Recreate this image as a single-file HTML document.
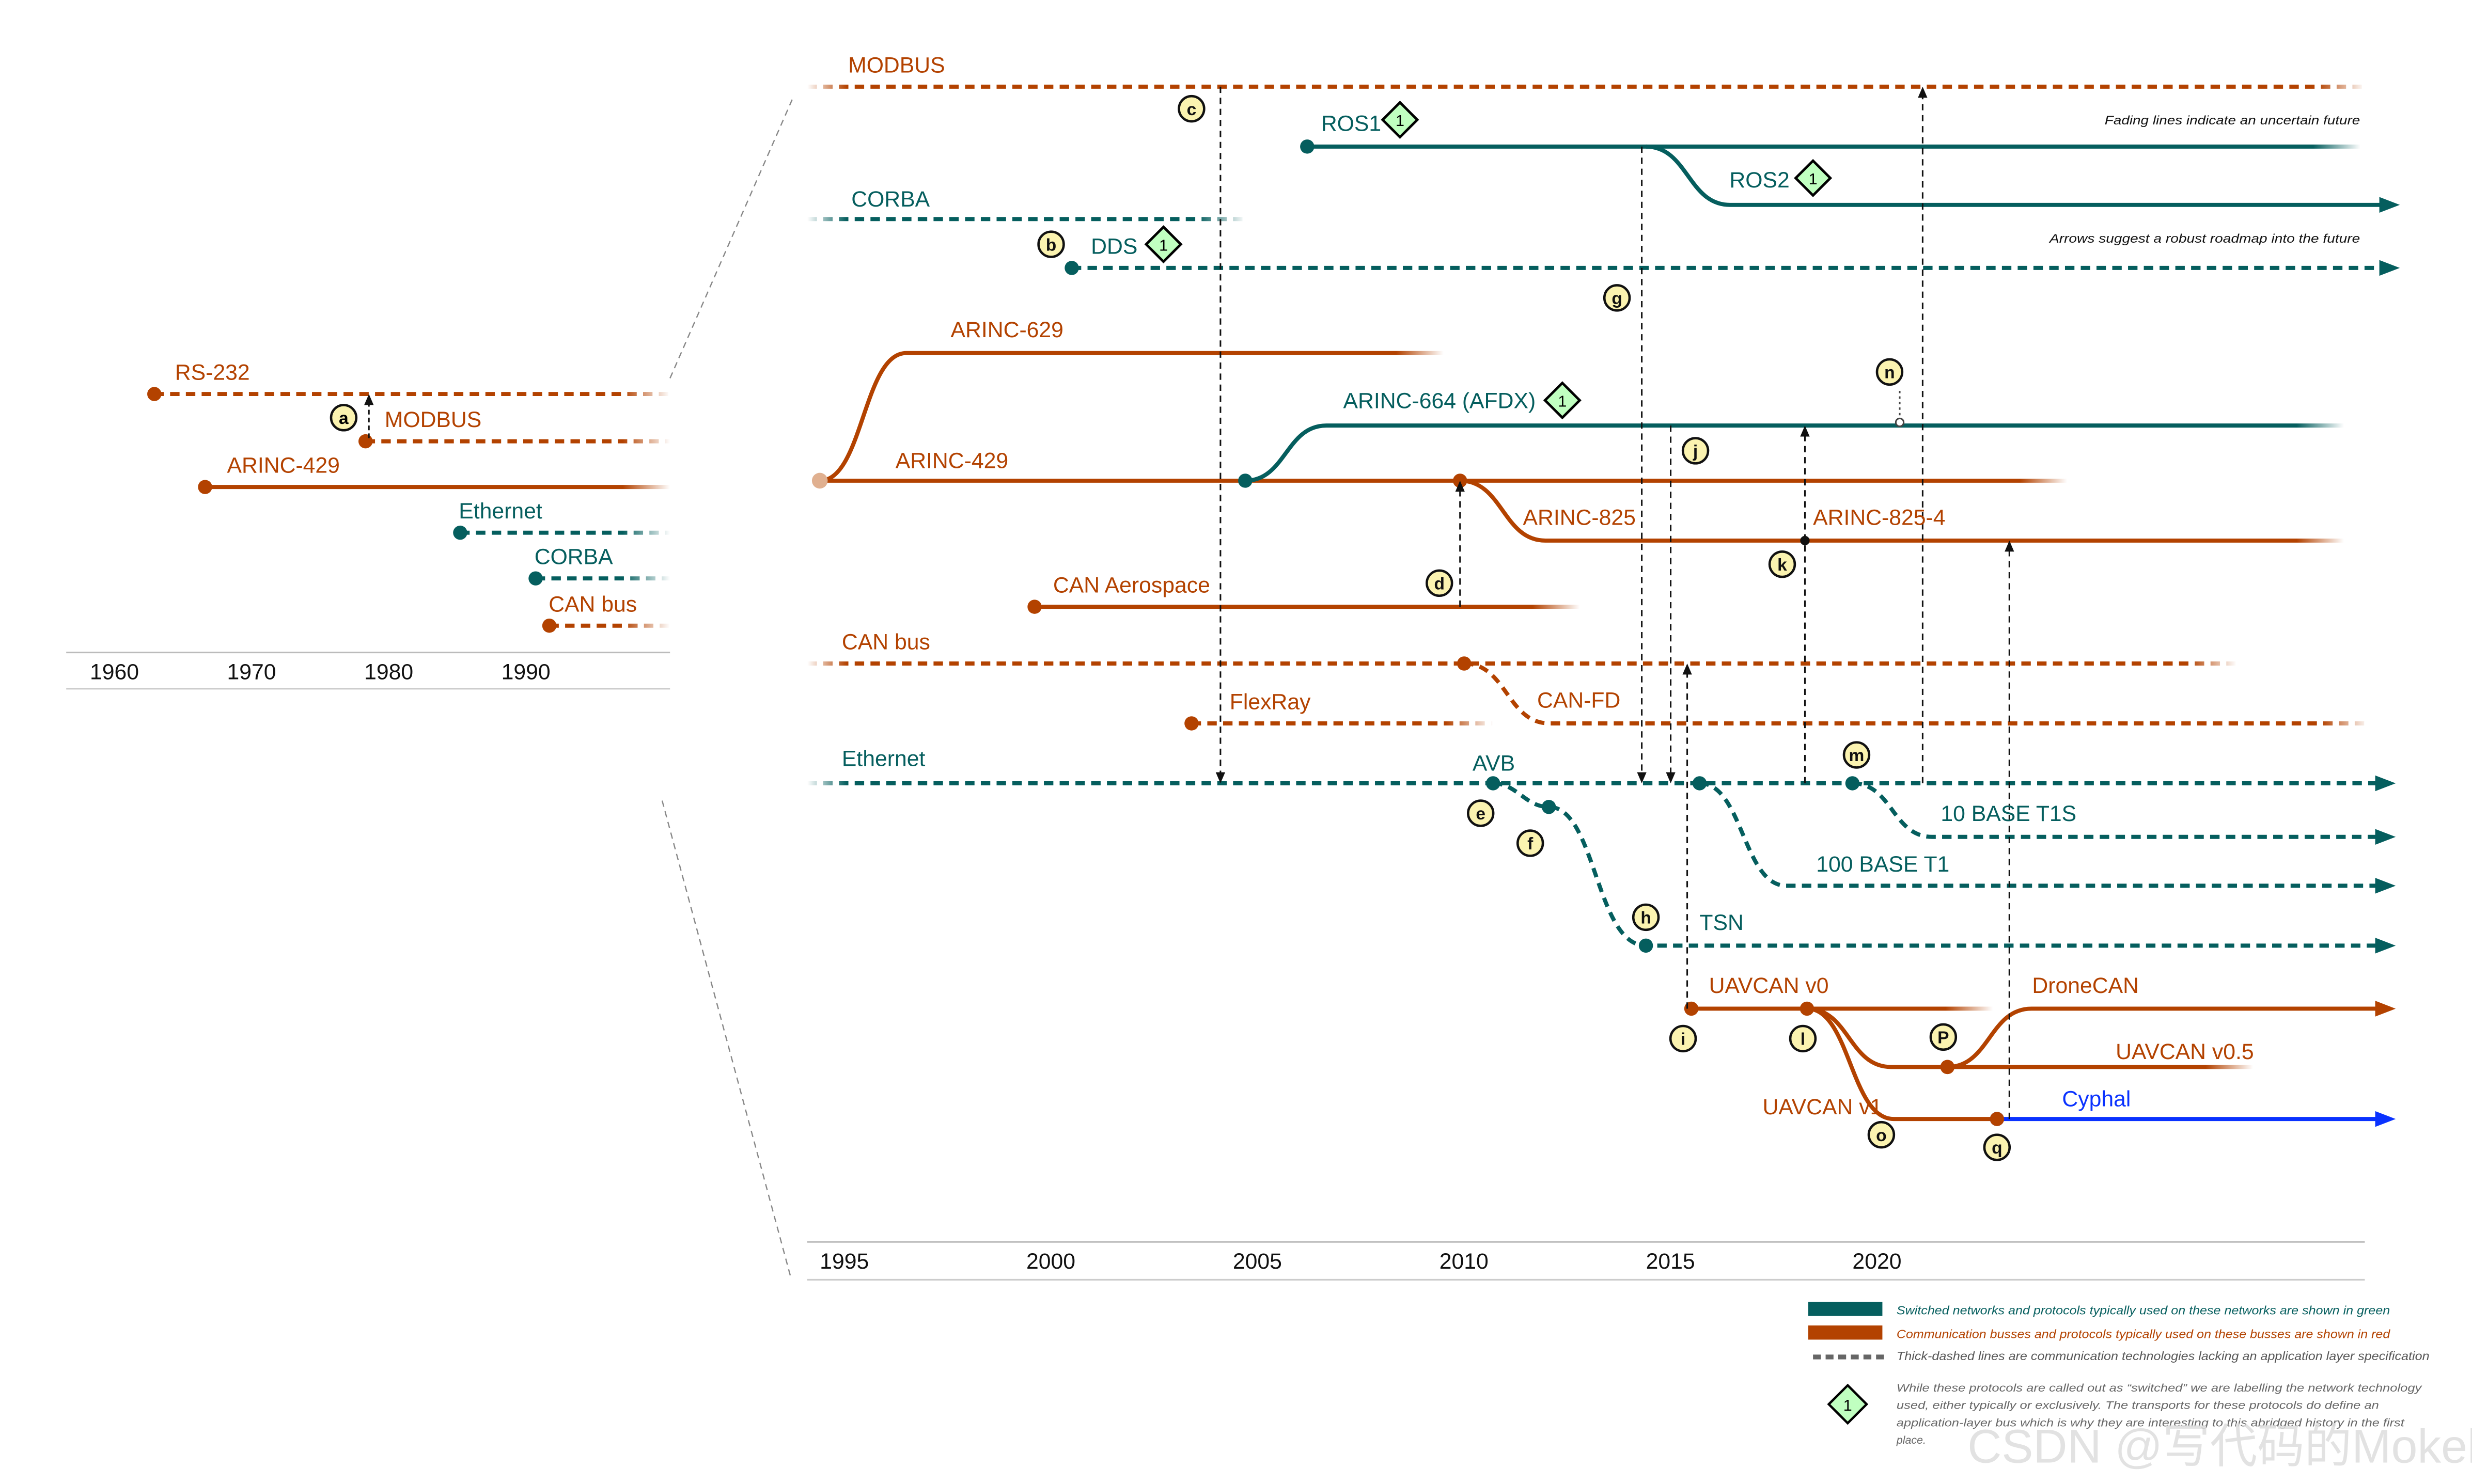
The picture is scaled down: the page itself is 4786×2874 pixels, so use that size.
<!DOCTYPE html>
<html><head><meta charset="utf-8"><style>
html,body{margin:0;padding:0;background:#fff}
svg{display:block}
text{font-family:"Liberation Sans","Noto Sans CJK SC",sans-serif}
</style></head><body>
<svg id="c" xmlns="http://www.w3.org/2000/svg" width="4786" height="2874" viewBox="0 0 1568 941.6" preserveAspectRatio="none">
<defs id="defs"></defs>
<g id="axes">
  <line x1="42" y1="414" x2="425" y2="414" stroke="#bbb" stroke-width="1"/>
  <line x1="42" y1="437" x2="425" y2="437" stroke="#ccc" stroke-width="1"/>
  <line x1="512" y1="788" x2="1500" y2="788" stroke="#bbb" stroke-width="1"/>
  <line x1="512" y1="812" x2="1500" y2="812" stroke="#ccc" stroke-width="1"/>
  <line x1="425" y1="240" x2="503" y2="62" stroke="#888" stroke-width="0.8" stroke-dasharray="4,3"/>
  <line x1="420" y1="508" x2="502" y2="812" stroke="#888" stroke-width="0.8" stroke-dasharray="4,3"/>
</g>
<g id="g-lines"></g>
<g id="g-vert"></g>
<g id="g-labels"></g>
<g id="legend">
  <rect x="1147" y="826" width="47" height="9" fill="#055e5e"/>
  <text x="1203" y="834" font-size="7.5" font-style="italic" fill="#055e5e" textLength="313" lengthAdjust="spacingAndGlyphs">Switched networks and protocols typically used on these networks are shown in green</text>
  <rect x="1147" y="841" width="47" height="9" fill="#b34200"/>
  <text x="1203" y="849" font-size="7.5" font-style="italic" fill="#b34200" textLength="313" lengthAdjust="spacingAndGlyphs">Communication busses and protocols typically used on these busses are shown in red</text>
  <line x1="1150" y1="861" x2="1195" y2="861" stroke="#666" stroke-width="3" stroke-dasharray="5,3"/>
  <text x="1203" y="863" font-size="7.5" font-style="italic" fill="#555" textLength="338" lengthAdjust="spacingAndGlyphs">Thick-dashed lines are communication technologies lacking an application layer specification</text>
  <g><polygon points="1172,879 1184,891 1172,903 1160,891" fill="#c0ffc0" stroke="#000" stroke-width="1.5"/><text x="1172" y="895" font-size="10" text-anchor="middle">1</text></g>
  <text font-size="7" font-style="italic" fill="#666">
    <tspan x="1203" y="883" textLength="333" lengthAdjust="spacingAndGlyphs">While these protocols are called out as “switched” we are labelling the network technology</tspan>
    <tspan x="1203" y="894" textLength="306" lengthAdjust="spacingAndGlyphs">used, either typically or exclusively. The transports for these protocols do define an</tspan>
    <tspan x="1203" y="905" textLength="322" lengthAdjust="spacingAndGlyphs">application-layer bus which is why they are interesting to this abridged history in the first</tspan>
    <tspan x="1203" y="916">place.</tspan>
  </text>
  <text x="1497" y="79" font-size="8" font-style="italic" fill="#111" text-anchor="end" textLength="162" lengthAdjust="spacingAndGlyphs">Fading lines indicate an uncertain future</text>
  <text x="1497" y="154" font-size="8" font-style="italic" fill="#111" text-anchor="end" textLength="197" lengthAdjust="spacingAndGlyphs">Arrows suggest a robust roadmap into the future</text>
</g>
<text x="1248" y="928" font-size="30" fill="#ddd" opacity="0.85">CSDN @写代码的Mokel</text>
</svg>
<script>
// ---- data ----
const mainTicks = [1995, 2000, 2005, 2010, 2015, 2020];
const leftTicks = [1960, 1970, 1980, 1990];
const sNames  = ["MODBUS","ROS1","ROS2","CORBA","DDS","ARINC-629","ARINC-429","ARINC-664 (AFDX)","ARINC-825","CAN Aerospace","CAN bus","CAN-FD","FlexRay","Ethernet","TSN","100 BASE T1","10 BASE T1S","UAVCAN v0","UAVCAN v0.5","DroneCAN","UAVCAN v1","Cyphal"];
const sStart  = [1994.7,2006.8,2015.0,1994.7,2001.1,1995.0,1995.0,2005.3,2010.5,2000.2,1994.7,2010.6,2004.0,1994.7,2011.3,2016.3,2020.0,2016.1,2018.9,2022.3,2018.9,2023.5];
const sEnd    = [2032.4,2032.3,2033.1,2005.3,2033.1,2010.1,2025.2,2031.9,2031.9,2013.4,2029.3,2032.5,2011.3,2033.0,2033.0,2033.0,2033.0,2023.4,2029.7,2033.0,2023.5,2033.0];
const sEndType= ["fade","fade","arrow","fade","arrow","fade","fade","fade","fade","fade","fade","fade","fade","arrow","arrow","arrow","arrow","fade","fade","arrow","none","arrow"];
const sDashed = [1,0,0,1,1,0,0,0,0,0,1,1,1,1,1,1,1,0,0,0,0,0];
const sGroup  = ["r","g","g","g","g","r","r","g","r","r","r","r","r","g","g","g","g","r","r","r","r","b"];
const sDot    = [0,1,0,0,1,0,0,1,1,1,0,1,1,0,1,1,1,1,0,1,0,1];
const sLaneFrom=[55,93,93,139,170,305,305,305,305,385,421,421,459,497,497,497,497,640,640,677,640,710];
const sLaneTo  =[55,93,130,139,170,224,305,270,343,385,421,459,459,497,600,562,531,640,677,640,710,710];
const sLabelXY =[[538,46],[838,83],[1097,119],[540,131],[692,161],[603,214],[568,297],[852,259],[966,333],[668,376],[534,412],[975,449],[780,450],[534,486],[1078,590],[1152,553],[1231,521],[1084,630],[1342,672],[1289,630],[1118,707],[1308,702]];
const fadeStart=[1,0,0,1,0,0,0,0,0,0,1,0,0,1,0,0,0,0,0,0,0,0];
const lNames=["RS-232","MODBUS","ARINC-429","Ethernet","CORBA","CAN bus"];
const lStart=[1964.7,1980.1,1968.4,1987.0,1992.5,1993.5];
const lGroup=["r","r","r","g","g","r"];
const lDashed=[1,1,0,1,1,1];
const lLane=[250,280,309,338,367,397];
const lLabelX=[111,244,144,291,339,348];
const vYear=[2004.7,2014.9,2021.7,2015.6,2018.85,2010.5,2016.0,2023.8];
const vFrom=[55,93,497,270,497,385,640,710];
const vTo  =[497,497,55,497,270,305,421,343];
const bLetters=["c","b","g","n","j","d","k","m","e","f","h","i","l","P","o","q"];
const bYears=[2004.0,2000.6,2014.3,2020.9,2016.2,2010.0,2018.3,2020.1,2011.0,2012.2,2015.0,2015.9,2018.8,2022.2,2020.7,2023.5];
const bY=[69,155,189,236,286,370,358,479,516,535,582,659,659,658,720,728];
const diamonds=[[888,76],[1150,113],[738,155],[991,254]];

const X=y=>520+(y-1995)*26.2;
const XL=y=>57+(y-1960)*8.7;
const COL={r:"#b34200",g:"#055e5e",b:"#0a32ff"};
const NS="http://www.w3.org/2000/svg";
const defs=document.getElementById('defs');
const gl=document.getElementById('g-lines'),gv=document.getElementById('g-vert'),gt=document.getElementById('g-labels');
function mk(t,a,p){const e=document.createElementNS(NS,t);for(const k in a)e.setAttribute(k,a[k]);(p||gl).appendChild(e);return e;}

function grad(id,x0,x1,col,fs,fe){
  const g=mk('linearGradient',{id:id,gradientUnits:'userSpaceOnUse',x1:x0,y1:0,x2:x1,y2:0},defs);
  const L=x1-x0,st=[];
  if(fs){st.push([0,0]);st.push([Math.min(25/L,0.4),1]);}else st.push([0,1]);
  if(fe){st.push([Math.max(1-30/L,0.6),1]);st.push([1,0]);}else st.push([1,1]);
  st.forEach(s=>mk('stop',{offset:s[0],'stop-color':col,'stop-opacity':s[1]},g));
  return 'url(#'+id+')';
}

mainTicks.forEach(t=>{const e=mk('text',{x:X(t),y:805,'font-size':14,fill:'#111'},gt);e.textContent=t;

});
leftTicks.forEach(t=>{const e=mk('text',{x:XL(t),y:431,'font-size':14,fill:'#111'},gt);e.textContent=t;

});

sNames.forEach((n,i)=>{
  const col=COL[sGroup[i]];
  const xs=X(sStart[i]),xe=X(sEnd[i]),y0=sLaneFrom[i],y1=sLaneTo[i];
  let d;
  if(n==="TSN"){
    const xm=X(sStart[i]+1.35),xh=X(2015.0);
    d=`M${xs},${y0} C${xs+15},${y0} ${xm-15},512 ${xm},512 C${xm+30},512 ${xh-32},${y1} ${xh},${y1} L${xe},${y1}`;
    mk('circle',{cx:xm,cy:512,r:4.5,fill:col});
    mk('circle',{cx:xh,cy:y1,r:4.5,fill:col});
  } else if(y0===y1) d=`M${xs},${y0} L${xe},${y1}`;
  else{const w=Math.min(55,Math.abs(y1-y0)*0.9+20),h=w/2;d=`M${xs},${y0} C${xs+h},${y0} ${xs+h},${y1} ${xs+w},${y1} L${xe},${y1}`;}
  const stroke=(sEndType[i]==='fade'||fadeStart[i])?grad('gr'+i,xs,xe,col,fadeStart[i],sEndType[i]==='fade'):col;
  const p=mk('path',{d:d,fill:'none',stroke:stroke,'stroke-width':2.6});
  if(sDashed[i])p.setAttribute('stroke-dasharray','6,4');
  
  
  if(sEndType[i]==='arrow'){
    const a=mk('polygon',{points:`${xe+4},${y1} ${xe-9},${y1-5} ${xe-9},${y1+5}`,fill:col});
    
    
  }
  if(sDot[i] && n!=="TSN"){
    const c=mk('circle',{cx:xs,cy:y0,r:4.5,fill:col});
    
    
  }
  const t=mk('text',{x:sLabelXY[i][0],y:sLabelXY[i][1],'font-size':14,fill:col},gt);t.textContent=n;
  
  
});
mk('circle',{cx:X(1995),cy:305,r:5,fill:'#e0b090'});
mk('circle',{cx:X(2018.85),cy:343,r:3,fill:'#111'});
{const t=mk('text',{x:1150,y:333,'font-size':14,fill:COL.r},gt);t.textContent='ARINC-825-4';

}
{const t=mk('text',{x:934,y:489,'font-size':14,fill:COL.g},gt);t.textContent='AVB';

}
mk('circle',{cx:X(2011.3),cy:497,r:4.5,fill:COL.g});
mk('circle',{cx:X(2018.9),cy:640,r:4.5,fill:COL.r});
mk('circle',{cx:X(2022.3),cy:677,r:4.5,fill:COL.r});
mk('circle',{cx:X(2023.5),cy:710,r:4.5,fill:COL.r});
mk('line',{x1:1205,y1:248,x2:1205,y2:266,stroke:'#444','stroke-width':1,'stroke-dasharray':'1.5,2'},gv);
mk('circle',{cx:1205,cy:268,r:2.5,fill:'#fff',stroke:'#444','stroke-width':1},gv);

lNames.forEach((n,i)=>{
  const col=COL[lGroup[i]],xs=XL(lStart[i]),xe=425,y=lLane[i];
  const p=mk('path',{d:`M${xs},${y} L${xe},${y}`,fill:'none',stroke:grad('lg'+i,xs,xe,col,0,1),'stroke-width':2.6});
  if(lDashed[i])p.setAttribute('stroke-dasharray','6,4');
  
  
  const c=mk('circle',{cx:xs,cy:y,r:4.5,fill:col});
  
  
  const t=mk('text',{x:lLabelX[i],y:y-9,'font-size':14,fill:col},gt);t.textContent=n;
  
  
});
mk('line',{x1:234,y1:278,x2:234,y2:255,stroke:'#111','stroke-width':1,'stroke-dasharray':'3,2'},gv);
mk('polygon',{points:'234,250 231,257 237,257',fill:'#111'},gv);

vYear.forEach((yr,i)=>{
  const x=X(yr),a=vFrom[i],b=vTo[i],dir=b>a?1:-1;
  const l=mk('line',{x1:x,y1:a,x2:x,y2:b-dir*5,stroke:'#111','stroke-width':1,'stroke-dasharray':'4,3'},gv);
  
  
  mk('polygon',{points:`${x},${b} ${x-3},${b-dir*7} ${x+3},${b-dir*7}`,fill:'#111'},gv);
});

bLetters.forEach((L,i)=>{
  const x=X(bYears[i]),y=bY[i];
  const g=mk('g',{},gt);
  
  
  mk('circle',{cx:x,cy:y,r:8,fill:'#fbf3b0',stroke:'#111','stroke-width':1.5},g);
  const t=mk('text',{x:x,y:y+4,'font-size':11,'font-weight':'bold','text-anchor':'middle',fill:'#111'},g);t.textContent=L;
});
{const g=mk('g',{},gt);


mk('circle',{cx:218,cy:265,r:8,fill:'#fbf3b0',stroke:'#111','stroke-width':1.5},g);
const t=mk('text',{x:218,y:269,'font-size':11,'font-weight':'bold','text-anchor':'middle'},g);t.textContent='a';}
diamonds.forEach((d,i)=>{
  const g=mk('g',{},gt);
  
  
  mk('polygon',{points:`${d[0]},${d[1]-11} ${d[0]+11},${d[1]} ${d[0]},${d[1]+11} ${d[0]-11},${d[1]}`,fill:'#c0ffc0',stroke:'#000','stroke-width':1.6},g);
  const t=mk('text',{x:d[0],y:d[1]+4,'font-size':10,'text-anchor':'middle'},g);t.textContent='1';
});
</script>
</body></html>
